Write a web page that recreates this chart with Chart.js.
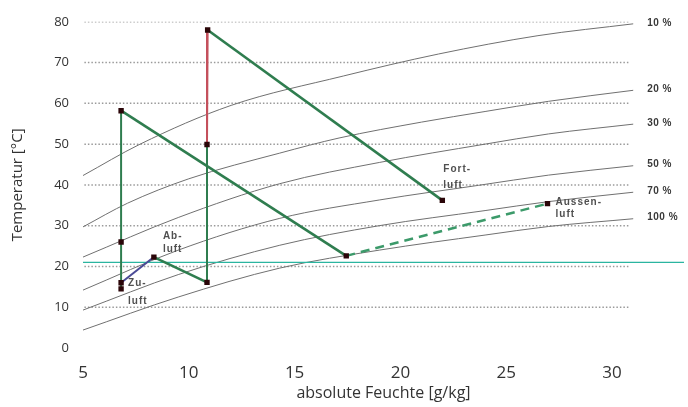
<!DOCTYPE html>
<html>
<head>
<meta charset="utf-8">
<script src="https://cdn.jsdelivr.net/npm/chart.js@4.4.0/dist/chart.umd.min.js"></script>
<style>
  html, body { margin: 0; padding: 0; background: #fff; }
</style>
</head>
<body>
<canvas id="ct-chart" width="688" height="407"></canvas>
<script>
// axis ticks
var xTicks = [5, 10, 15, 20, 25, 30],
  gridLevels = [10, 20, 30, 40, 50, 60, 70, 80];

// relative humidity curves [g/kg, °C]
var rhLabels = ["10 %", "20 %", "30 %", "50 %", "70 %", "100 %"];
var rh10 = [[5, 42.3], [7.7, 50], [12, 59.5], [17.3, 66.7], [21.8, 72.1], [26.5, 76.6], [31, 79.5]],
  rh20 = [[5, 29.7], [7.1, 35.5], [10, 41.5], [14.3, 47.8], [17.1, 51.5], [21, 55.4], [24, 58], [27, 60.5], [31, 63.2]],
  rh30 = [[5, 22.3], [9.5, 32], [14.3, 40.3], [19, 45.5], [24, 50], [27, 52.5], [31, 54.9]],
  rh50 = [[5, 14.2], [9.5, 24], [14.3, 31.8], [19, 36.3], [23.7, 39.9], [27, 42.4], [31, 44.7]],
  rh70 = [[5, 9.3], [9.5, 18], [14.3, 25.2], [19, 30], [24, 33.7], [27, 35.9], [31, 38.2]],
  rh100 = [[5, 4.4], [9.5, 12.5], [14.3, 19.6], [19, 24], [24, 27.7], [27, 29.8], [31, 31.7]];
var rhCurves = [rh10, rh20, rh30, rh50, rh70, rh100];

// air states (markers)
var statePoints = [
  [6.8, 58.2], [6.8, 26], [6.8, 16], [6.8, 14.5], [8.35, 22.3], [10.86, 16.1],
  [10.86, 49.9], [10.89, 78], [21.98, 36.2], [17.44, 22.6], [26.95, 35.4]
];

// process lines
var greenVerticals = [
  [[6.8, 58.2], [6.8, 14.5]],
  [[10.86, 49.9], [10.86, 16.1]]
];
var greenLines = [
  [[6.8, 58.2], [17.44, 22.6]],
  [[10.89, 78], [21.98, 36.2]],
  [[8.35, 22.3], [10.86, 16.1]]
];
var redLine = [[10.89, 78], [10.86, 49.9]],
  blueLine = [[6.8, 16], [8.35, 22.3]],
  dashedLine = [[17.44, 22.6], [26.95, 35.4]],
  roomLine = [[5, 21], [33.4, 21]];

var stateLabels = [
  { at: 8, text: ["Fort-", "luft"] },
  { at: 10, text: ["Aussen-", "luft"] },
  { at: 4, text: ["Ab-", "luft"] },
  { at: 2, text: ["Zu-", "luft"] }
];

toXY = (list) => list.map((p) => ({ x: p[0], y: p[1] }));

// pixel offsets for the state labels: dx, dy, line height
var labelOffsets = [
  [1, -31, 16],
  [8, -1, 12],
  [9, -21, 13],
  [7, 0, 18]
];

const textPlugin = {
  id: "diagramText",
  afterDatasetsDraw(chart) {
    const ctx = chart.ctx,
      xs = chart.scales.x,
      ys = chart.scales.y;
    ctx.save();
    ctx.textBaseline = "middle";
    ctx.textAlign = "left";
    ctx.fillStyle = "#3a3a3a";
    ctx.font = "bold 10px 'Liberation Sans'";
    ctx.letterSpacing = "0.5px";
    rhCurves.forEach((curve, i) => {
      let end = curve[curve.length - 1];
      ctx.fillText(rhLabels[i], xs.getPixelForValue(end[0]) + 14, ys.getPixelForValue(end[1]) - 1);
    });
    ctx.fillStyle = "#505050";
    ctx.letterSpacing = "1px";
    stateLabels.forEach((lbl, i) => {
      let p = statePoints[lbl.at],
        off = labelOffsets[i],
        px = xs.getPixelForValue(p[0]) + off[0],
        py = ys.getPixelForValue(p[1]) + off[1];
      lbl.text.forEach((t, j) => ctx.fillText(t, px, py + j * off[2]));
    });
    ctx.restore();
  },
};

var datasets = [];
datasets.push({
  type: "scatter",
  data: toXY(statePoints),
  pointStyle: "rect",
  pointRadius: 3.8,
  backgroundColor: "#2a0508",
  borderColor: "#2a0508",
  borderWidth: 0,
});
greenLines.forEach((seg) => {
  datasets.push({ data: toXY(seg), borderColor: "#2f7d4f", borderWidth: 2.6 });
});
greenVerticals.forEach((seg) => {
  datasets.push({ data: toXY(seg), borderColor: "#2f7d4f", borderWidth: 2 });
});
datasets.push({ data: toXY(redLine), borderColor: "#c4505c", borderWidth: 2 });
datasets.push({ data: toXY(blueLine), borderColor: "#4a4a96", borderWidth: 2 });
datasets.push({ data: toXY(dashedLine), borderColor: "#3c9a6a", borderWidth: 2.5, borderDash: [9, 6] });
datasets.push({ data: toXY(roomLine), borderColor: "#2bb5a0", borderWidth: 1.3 });
rhCurves.forEach((curve) => {
  datasets.push({ data: toXY(curve), borderColor: "#707070", borderWidth: 1, cubicInterpolationMode: "monotone" });
});
gridLevels.forEach((lvl) => {
  datasets.push({
    data: [{ x: 4.9, y: lvl }, { x: 30.8, y: lvl }],
    borderColor: "#9a9a9a",
    borderWidth: 1.5,
    borderDash: [1.5, 2],
  });
});
datasets.forEach((ds) => {
  ds.type = ds.type || "line";
  ds.pointRadius = ds.pointRadius || 0;
  ds.fill = false;
});

new Chart(document.getElementById("ct-chart"), {
  data: { datasets: datasets },
  plugins: [textPlugin],
  options: {
    responsive: false,
    animation: false,
    layout: { padding: { top: 14, right: 0, left: 0, bottom: 0 } },
    plugins: { legend: { display: false }, tooltip: { enabled: false } },
    scales: {
      x: {
        type: "linear",
        min: 5,
        max: 33.4,
        afterBuildTicks: (scale) => {
          scale.ticks = xTicks.map((v) => ({ value: v }));
        },
        afterFit: (scale) => {
          scale.height = 59;
        },
        grid: { display: false, drawTicks: false },
        border: { display: false },
        ticks: { font: { family: "Open Sans", size: 17 }, color: "#333", padding: 15, maxRotation: 0 },
        title: {
          display: true,
          text: "absolute Feuchte [g/kg]",
          font: { family: "Open Sans", size: 16 },
          color: "#333",
          padding: { top: 4, bottom: 4 },
        },
      },
      y: {
        min: 0,
        max: 80,
        afterFit: (scale) => {
          scale.width = 83;
        },
        grid: { display: false, drawTicks: false },
        border: { display: false },
        ticks: { stepSize: 10, font: { family: "Open Sans", size: 13 }, color: "#333", padding: 14 },
        title: {
          display: true,
          text: "Temperatur [°C]",
          font: { family: "Open Sans", size: 15 },
          color: "#333",
          padding: { top: 9, bottom: 0 },
        },
      },
    },
  },
});
</script>
</body>
</html>
